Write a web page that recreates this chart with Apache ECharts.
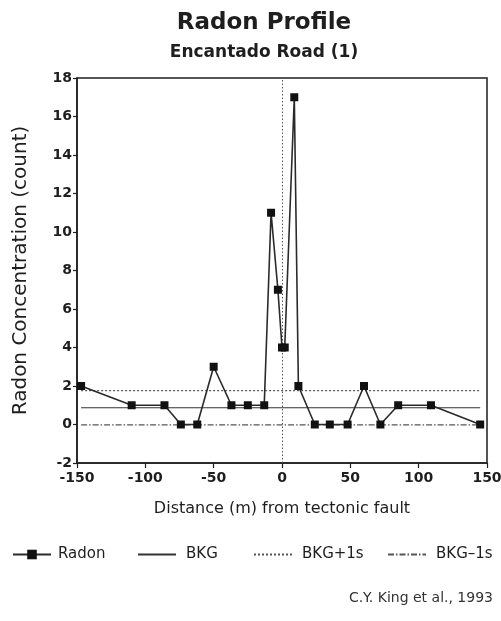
<!DOCTYPE html>
<html>
<head>
<meta charset="utf-8">
<script src="https://cdn.jsdelivr.net/npm/echarts@6/dist/echarts.min.js"></script>
<style>
  html, body { margin: 0; padding: 0; background: #fff; }
  #chart { width: 501px; height: 621px; }
</style>
</head>
<body>
<div id="chart"></div>
<script>
// Radon counts along the traverse (distance in m from the fault)
const distances = [-147, -110, -86, -74, -62, -50, -37, -25, -13, -8, -3, 0, 2, 9, 12, 24, 35, 48, 60, 72, 85, 109, 145];
const radon     = [2, 1, 1, 0, 0, 3, 1, 1, 1, 11, 7, 4, 4, 17, 2, 0, 0, 0, 2, 0, 1, 1, 0];

// Background level and its ±1 sigma band, drawn across the traverse
const bkgSpan = [-147, 145];
const bkg = 0.87;
const bkgPlus = 1.76;
const bkgMinus = -0.02;

const yTicks = [-2, 0, 2, 4, 6, 8, 10, 12, 14, 16, 18];
const xTicks = [-150, -100, -50, 0, 50, 100, 150];

const ink = '#1e1e1e';
const font = 'DejaVu Sans, Verdana, sans-serif';

const radonData = distances.map((d, i) => [d, radon[i]]);
const flat = v => bkgSpan.map(x => [x, v]);

const chart = echarts.init(document.getElementById('chart'), null, { renderer: 'canvas' });

const legendBase = {
  top: 547,
  padding: 0,
  itemWidth: 38,
  itemHeight: 12,
  textStyle: { fontFamily: font, fontSize: 15, color: ink, padding: [0, 0, 0, 5] },
  selectedMode: false
};
// plain line icons for the background series
const lineOnly = { color: 'transparent', borderWidth: 0, opacity: 0 };

chart.setOption({
  animation: false,
  backgroundColor: '#fff',
  title: [
    { text: 'Radon Profile', left: 259, textAlign: 'center', top: 7, textStyle: { fontFamily: font, fontSize: 23, fontWeight: 'bold', color: ink } },
    { text: 'Encantado Road (1)', left: 259, textAlign: 'center', top: 39, textStyle: { fontFamily: font, fontSize: 17, fontWeight: 'bold', color: ink } },
    { text: 'C.Y. King et al., 1993', right: 3, top: 586, textStyle: { fontFamily: font, fontSize: 14, fontWeight: 'normal', color: '#333' } }
  ],
  legend: [
    Object.assign({}, legendBase, { left: 12, data: ['Radon'], textStyle: Object.assign({}, legendBase.textStyle, { padding: [0, 0, 0, 2] }) }),
    Object.assign({}, legendBase, { left: 137, data: ['BKG'], itemStyle: lineOnly }),
    Object.assign({}, legendBase, { left: 253, data: ['BKG+1s'], itemStyle: lineOnly }),
    Object.assign({}, legendBase, { left: 387, data: ['BKG\u20131s'], itemStyle: lineOnly })
  ],
  grid: { left: 77, right: 14, top: 78, bottom: 158, outerBoundsMode: 'none', show: true, borderColor: ink, borderWidth: 1.5, backgroundColor: 'transparent' },
  xAxis: {
    type: 'value', min: -150, max: 150, interval: 50,
    name: 'Distance (m) from tectonic fault', nameLocation: 'middle', nameGap: 38,
    nameTextStyle: { fontFamily: font, fontSize: 16, color: ink },
    axisLine: { onZero: false, lineStyle: { color: ink, width: 1.5 } },
    axisTick: { show: true, inside: false, length: 5, lineStyle: { color: ink, width: 1.2 } },
    axisLabel: { fontFamily: font, fontSize: 14, fontWeight: 'bold', color: ink, margin: 8,
      formatter: v => xTicks.includes(v) ? String(v) : '' },
    splitLine: { show: false }
  },
  yAxis: {
    type: 'value', min: -2, max: 18, interval: 2,
    name: 'Radon Concentration (count)', nameLocation: 'middle', nameGap: 46,
    nameTextStyle: { fontFamily: font, fontSize: 20, color: ink },
    axisLine: { onZero: false, lineStyle: { color: ink, width: 1.5 } },
    axisTick: { show: true, inside: false, length: 4, lineStyle: { color: ink, width: 1.2 } },
    axisLabel: { fontFamily: font, fontSize: 14, fontWeight: 'bold', color: ink, margin: 5,
      formatter: v => yTicks.includes(v) ? String(v) : '' },
    splitLine: { show: false }
  },
  series: [
    {
      name: 'Radon', type: 'line', data: radonData,
      symbol: 'rect', symbolSize: 8,
      itemStyle: { color: '#111' },
      lineStyle: { color: '#2a2a2a', width: 1.6 },
      z: 5,
      markLine: {
        silent: true, symbol: 'none', label: { show: false },
        lineStyle: { color: '#555', type: [1.5, 2], width: 1 },
        data: [{ xAxis: 0 }]
      }
    },
    {
      name: 'BKG', type: 'line', data: flat(bkg), symbol: 'none',
      lineStyle: { color: '#333', width: 1.2 }, itemStyle: { color: '#333' }
    },
    {
      name: 'BKG+1s', type: 'line', data: flat(bkgPlus), symbol: 'none',
      lineStyle: { color: '#555', width: 1.2, type: [2, 2] }, itemStyle: { color: '#555' }
    },
    {
      name: 'BKG\u20131s', type: 'line', data: flat(bkgMinus), symbol: 'none',
      lineStyle: { color: '#555', width: 1.1, type: [6, 2, 1.5, 2] }, itemStyle: { color: '#555' }
    }
  ]
});
</script>
</body>
</html>
